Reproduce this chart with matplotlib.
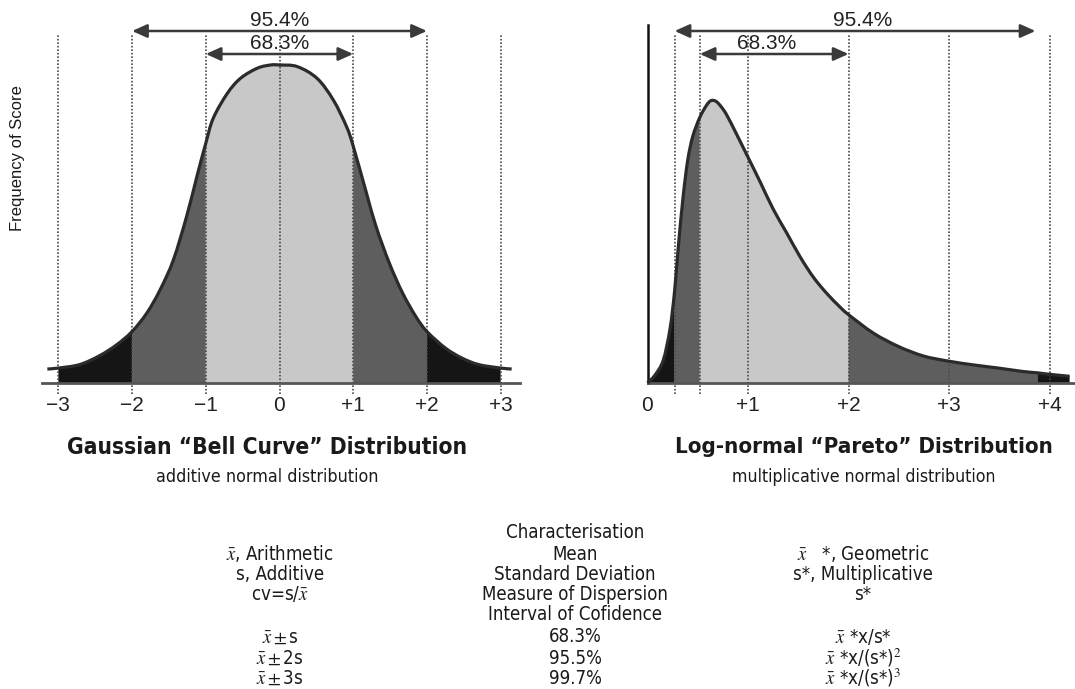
import numpy as np
import matplotlib.pyplot as plt
from matplotlib import font_manager
from matplotlib.path import Path
from matplotlib.patches import PathPatch

plt.rcParams['font.family'] = ['Liberation Sans', 'DejaVu Sans']
plt.rcParams['mathtext.fontset'] = 'stix'

# a condensed sans face if one is installed, else the plain one
cond = {}
for f in font_manager.fontManager.ttflist:
    if (f.stretch in ('condensed', 'semi-condensed') or 'Narrow' in f.name or 'Condensed' in f.name) \
            and 'Mono' not in f.name and 'Serif' not in f.name and f.style == 'normal':
        w = 'bold' if f.weight in ('bold', 700) else ('normal' if f.weight in ('normal', 'regular', 400) else None)
        if w and w not in cond:
            cond[w] = f.fname


def fprops(weight):
    if weight in cond:
        return dict(fontproperties=font_manager.FontProperties(fname=cond[weight]))
    return dict(family='Liberation Sans', fontweight=weight)


# gaussian curve (sigma units, % of peak height)
gx = [-3.15, -3.0, -2.71, -2.44, -2.21, -2.0, -1.80, -1.62, -1.44, -1.26, -1.12, -1.0, -0.9, -0.71,
      -0.53, -0.30, -0.12, 0.0, 0.24, 0.51, 0.73, 0.91, 1.0, 1.18, 1.31, 1.49, 1.67, 1.85, 2.0, 2.25,
      2.47, 2.7, 3.0, 3.15]
gy = [4.4, 4.7, 5.8, 8.6, 12.0, 16.2, 22.0, 29.3, 38.7, 52.4, 65.0, 75.4, 83.2, 91.0,
      95.8, 99.0, 100, 100, 99.5, 95.8, 89.0, 80.6, 74.5, 59.7, 49.2, 37.7, 28.3, 20.9, 16.2, 11.0,
      7.9, 5.8, 4.7, 4.4]
g_edges = [-3, -2, -1, 1, 2, 3]
g_lines = [-3, -2, -1, 0, 1, 2, 3]
g_ticks = [-3, -2, -1, 0, 1, 2, 3]
g_labels = ['\u22123', '\u22122', '\u22121', '0', '+1', '+2', '+3']

# log-normal curve
lx = [0.0, 0.075, 0.157, 0.224, 0.27, 0.307, 0.356, 0.40, 0.45, 0.52, 0.589, 0.632, 0.68, 0.73,
      0.788, 0.887, 1.0, 1.12, 1.252, 1.385, 1.52, 1.65, 1.78, 1.915, 2.0, 2.247, 2.496, 2.745,
      2.99, 3.24, 3.49, 3.74, 3.88, 3.98, 4.2]
ly = [0.0, 2.5, 7.2, 17.0, 29.0, 43.0, 59.0, 70.0, 77.5, 83.5, 87.4, 88.8, 88.6, 87.0,
      84.3, 78.2, 71.0, 63.3, 54.6, 47.2, 39.6, 33.3, 28.3, 23.9, 21.5, 15.7, 11.5, 8.5,
      6.9, 5.7, 4.7, 3.6, 3.2, 2.8, 2.1]
l_edges = [0, 0.27, 0.52, 2.0, 3.88, 4.2]
l_lines = [0.27, 0.52, 1, 2, 3, 4]
l_ticks = [0, 1, 2, 3, 4]
l_labels = ['0', '+1', '+2', '+3', '+4']

shades = ['#151515', '#5e5e5e', '#c8c8c8', '#5e5e5e', '#151515']

W, H = 1075, 689
fig = plt.figure(figsize=(W / 100, H / 100), dpi=100)

BASE = 383
YU = 3.18
TOP, BOT = 0, 430


def put(ax, left, right, x0, unit):
    ax.set_position([left / W, 1 - BOT / H, (right - left) / W, (BOT - TOP) / H])
    ax.set_xlim((left - x0) / unit, (right - x0) / unit)
    ax.set_ylim((BASE - BOT) / YU, (BASE - TOP) / YU)


def smooth(pts, i0, i1):
    # catmull-rom pieces through the read points, as bezier segments
    verts, codes = [], []
    n = len(pts)
    for k in range(i0, i1):
        p0 = pts[max(k - 1, 0)]
        p1 = pts[k]
        p2 = pts[k + 1]
        p3 = pts[min(k + 2, n - 1)]
        verts += [p1 + (p2 - p0) / 6, p2 - (p3 - p1) / 6, p2]
        codes += [Path.CURVE4] * 3
    return verts, codes


def panel(ax, xs, ys, edges, lines, ticks, labels, arrows):
    pts = np.column_stack([xs, ys])
    xs = np.array(xs)
    for i in range(len(edges) - 1):
        i0 = int(np.argmin(abs(xs - edges[i])))
        i1 = int(np.argmin(abs(xs - edges[i + 1])))
        v, c = smooth(pts, i0, i1)
        verts = [(xs[i0], 0), pts[i0]] + v + [(xs[i1], 0), (xs[i0], 0)]
        codes = [Path.MOVETO, Path.LINETO] + c + [Path.LINETO, Path.CLOSEPOLY]
        ax.add_patch(PathPatch(Path(verts, codes), fc=shades[i], lw=0, zorder=1))
    ax.vlines(lines, -3.6, 109.5, colors='#4a4a4a', linestyles=(0, (1, 1.1)), lw=1.2, zorder=2)
    v, c = smooth(pts, 0, len(pts) - 1)
    ax.add_patch(PathPatch(Path([pts[0]] + v, [Path.MOVETO] + c), fc='none', ec='#2b2b2b',
                           lw=2.3, zorder=3, capstyle='butt'))
    for a, b, txt, tx in arrows:
        y = (BASE - 31) / YU if txt == '95.4%' else (BASE - 54) / YU
        ax.annotate('', xy=(b, y), xytext=(a, y),
                    arrowprops=dict(arrowstyle='<|-|>,head_length=0.6,head_width=0.27',
                                    mutation_scale=15, color='#3a3a3a', lw=1.8,
                                    shrinkA=0, shrinkB=0), zorder=4)
        ax.text(tx, y + 3.3, txt, ha='center', va='center', fontsize=15, color='#222222', zorder=5)
    ax.set_xticks(ticks, labels)
    ax.tick_params(axis='x', length=0, pad=9, labelsize=15, labelcolor='#222222')
    for t in ax.get_xticklabels():
        t.set(**fprops('normal'))
        t.set_fontsize(16)
    ax.tick_params(axis='y', left=False, labelleft=False)
    for s in ['top', 'right']:
        ax.spines[s].set_visible(False)
    ax.spines['bottom'].set_position(('data', 0))
    ax.spines['bottom'].set_color('#555555')
    ax.spines['bottom'].set_linewidth(2)
    ax.patch.set_alpha(0)


axg = fig.add_axes([0, 0, 1, 1])
put(axg, 30, 530, 279.5, 73.7)
panel(axg, gx, gy, g_edges, g_lines, g_ticks, g_labels,
      [(-2, 2, '95.4%', 0), (-1, 1, '68.3%', 0)])
axg.spines['left'].set_visible(False)
axg.spines['bottom'].set_bounds(-3.22, 3.26)

axl = fig.add_axes([0, 0, 1, 1])
put(axl, 630, 1075, 647.5, 100.5)
panel(axl, lx, ly, l_edges, l_lines, l_ticks, l_labels,
      [(0.27, 3.86, '95.4%', 2.14), (0.52, 2.0, '68.3%', 1.19)])
axl.spines['left'].set_position(('data', 0))
axl.spines['left'].set_bounds(0, (BASE - 25) / YU)
axl.spines['left'].set_color('#111111')
axl.spines['left'].set_linewidth(1.8)
axl.spines['bottom'].set_bounds(0, 4.24)

renderer = fig.canvas.get_renderer()


def ftext(x, y, s, width=None, size=12, weight='normal', **kw):
    t = fig.text(x / W, 1 - y / H, s, ha='center', va='center', color='#1a1a1a', **fprops(weight), **kw)
    t.set_fontsize(size)
    if width:
        bb = t.get_window_extent(renderer)
        t.set_fontsize(size * width / bb.width)
    return t


fig.text(18 / W, 1 - 158 / H, 'Frequency of Score', rotation=90, fontsize=12,
         ha='center', va='center', color='#1a1a1a')
ftext(267, 447, 'Gaussian \u201cBell Curve\u201d Distribution', width=398, size=17, weight='bold')
ftext(267, 477, 'additive normal distribution', width=222, size=13)
ftext(864, 447, 'Log-normal \u201cPareto\u201d Distribution', width=377, size=17, weight='bold')
ftext(864, 477, 'multiplicative normal distribution', width=264, size=13)

# characterisation table
col_left = ['$\\bar{x}$, Arithmetic', 's, Additive', 'cv=s/$\\bar{x}$', '',
            '$\\bar{x}\\pm$s', '$\\bar{x}\\pm$2s', '$\\bar{x}\\pm$3s']
col_mid = ['Mean', 'Standard Deviation', 'Measure of Dispersion', 'Interval of Cofidence',
           '68.3%', '95.5%', '99.7%']
col_right = ['$\\bar{x}$   *, Geometric', 's*, Multiplicative', 's*', '',
             '$\\bar{x}$ *x/s*', '$\\bar{x}$ *x/(s*)$^2$', '$\\bar{x}$ *x/(s*)$^3$']
row_y = [554, 574, 594, 614, 637, 658, 678]

t = ftext(575, 533, 'Characterisation', width=135, size=13)
tsize = ftext(575, row_y[2], col_mid[2], width=186, size=13).get_fontsize()
t.set_fontsize(tsize)
for i in range(len(row_y)):
    ftext(280, row_y[i], col_left[i], size=tsize)
    if i != 2:
        ftext(575, row_y[i], col_mid[i], size=tsize)
    ftext(863, row_y[i], col_right[i], size=tsize)

fig.savefig('out.png', dpi=100)
